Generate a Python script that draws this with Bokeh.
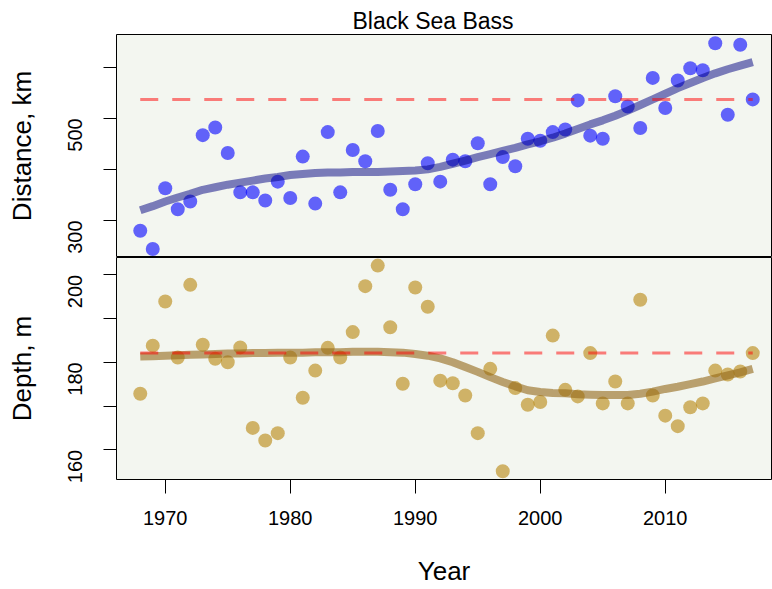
import math
from bokeh.plotting import figure
from bokeh.layouts import column
from bokeh.models import FixedTicker, Range1d
from bokeh.embed import file_html
from bokeh.resources import INLINE

title_text = "Black Sea Bass"
years = list(range(1968, 2018))

distance_km = [280, 244, 363, 322, 337, 467, 482, 432, 355, 355,
               339, 376, 344, 425, 333, 473, 355, 438, 416, 475,
               360, 322, 371, 412, 376, 419, 416, 451, 371, 424,
               406, 460, 456, 473, 478, 535, 466, 460, 543, 523,
               481, 579, 520, 574, 598, 594, 647, 507, 644, 537]
distance_smooth = [320, 328, 337, 345, 352, 360, 365, 370, 374, 378,
                   382, 385, 389, 391, 393, 394, 394, 395, 395, 395,
                   396, 397, 398, 400, 405, 411, 417, 424, 430, 436,
                   442, 449, 455, 462, 470, 479, 488, 496, 505, 515,
                   526, 537, 548, 559, 569, 579, 588, 596, 603, 610]
distance_ref = 537

depth_m = [172.8, 183.8, 193.9, 181.1, 197.7, 184.0, 180.8, 180.0, 183.4, 165.0,
           162.1, 163.8, 181.1, 171.9, 178.1, 183.3, 181.1, 186.9, 197.4, 202.1,
           188.0, 175.1, 197.1, 192.7, 175.8, 175.2, 172.4, 163.8, 178.5, 155.1,
           174.1, 170.3, 170.9, 186.1, 173.7, 172.2, 182.1, 170.6, 175.6, 170.6,
           194.3, 172.4, 167.8, 165.4, 169.7, 170.6, 178.1, 177.2, 177.9, 182.1]
depth_smooth = [181.3, 181.4, 181.5, 181.6, 181.7, 181.8, 181.9, 182.0, 182.0, 182.1,
                182.1, 182.2, 182.2, 182.2, 182.3, 182.3, 182.3, 182.4, 182.4, 182.4,
                182.3, 182.2, 181.9, 181.5, 180.9, 180.0, 178.9, 177.8, 176.6, 175.5,
                174.5, 173.6, 173.2, 173.0, 172.9, 172.7, 172.6, 172.5, 172.5, 172.5,
                172.8, 173.3, 173.9, 174.4, 175.0, 175.6, 176.3, 177.0, 177.7, 178.5]
depth_ref = 182.1

x_ticks = [1970, 1980, 1990, 2000, 2010]
dist_ticks = [300, 400, 500, 600]
dist_labels = {300: "300", 400: "", 500: "500", 600: ""}
depth_ticks = [160, 170, 180, 190, 200]
depth_labels = {160: "160", 170: "", 180: "180", 190: "", 200: "200"}

FONT = "Liberation Sans"
BG = "#f3f6f0"
x_range = Range1d(1966.1, 2018.5)


def style(p, ylabel, ticks, labels):
    p.outline_line_color = "black"
    p.outline_line_width = 1
    p.background_fill_color = BG
    p.border_fill_color = "white"
    p.xgrid.visible = False
    p.ygrid.visible = False
    ax = p.yaxis[0]
    ax.ticker = FixedTicker(ticks=ticks)
    ax.major_label_overrides = labels
    ax.axis_label = ylabel
    ax.axis_label_text_font = FONT
    ax.axis_label_text_font_size = "26px"
    ax.axis_label_text_font_style = "normal"
    ax.axis_label_text_color = "black"
    ax.axis_label_standoff = 22
    ax.major_label_text_font = FONT
    ax.major_label_text_font_size = "20px"
    ax.major_label_text_color = "black"
    ax.major_label_orientation = math.pi / 2
    ax.major_label_standoff = 28
    ax.major_tick_out = 13
    ax.major_tick_in = 0
    ax.minor_tick_out = 0
    ax.minor_tick_in = 0
    ax.axis_line_color = None
    ax.major_tick_line_color = "black"


top = figure(width=772, height=257, x_range=x_range, y_range=Range1d(227.5, 664),
             output_backend="svg", toolbar_location=None,
             min_border_left=116, min_border_right=1, min_border_top=34, min_border_bottom=0)
top.title.text = title_text
top.title.text_font = FONT
top.title.text_font_size = "23px"
top.title.text_font_style = "normal"
top.title.text_color = "black"
top.title.align = "left"
top.title.offset = 236
top.title.standoff = 2
top.xaxis.visible = False
style(top, "Distance, km", dist_ticks, dist_labels)

top.scatter(years, distance_km, size=14, fill_color="blue", fill_alpha=0.6, line_color=None)
top.line(years, distance_smooth, line_color="navy", line_alpha=0.5, line_width=8)
top.line([years[0], years[-1]], [distance_ref, distance_ref], line_color="red",
         line_alpha=0.5, line_width=3, line_dash="18 14")

bot = figure(width=772, height=332, x_range=x_range, y_range=Range1d(153.2, 203.95),
             output_backend="svg", toolbar_location=None,
             min_border_left=116, min_border_right=1, min_border_top=0, min_border_bottom=110)
style(bot, "Depth, m", depth_ticks, depth_labels)
xa = bot.xaxis[0]
xa.ticker = FixedTicker(ticks=x_ticks)
xa.axis_label = "Year"
xa.axis_label_text_font = FONT
xa.axis_label_text_font_size = "26px"
xa.axis_label_text_font_style = "normal"
xa.axis_label_text_color = "black"
xa.axis_label_standoff = 28
xa.major_label_text_font = FONT
xa.major_label_text_font_size = "20px"
xa.major_label_text_color = "black"
xa.major_label_standoff = 17
xa.major_tick_out = 14
xa.major_tick_in = 0
xa.minor_tick_out = 0
xa.minor_tick_in = 0
xa.axis_line_color = None

bot.scatter(years, depth_m, size=14, fill_color="darkgoldenrod", fill_alpha=0.6, line_color=None)
bot.line(years, depth_smooth, line_color="#926717", line_alpha=0.6, line_width=8)
bot.line([years[0], years[-1]], [depth_ref, depth_ref], line_color="red",
         line_alpha=0.5, line_width=3, line_dash="18 14")

layout = column(top, bot, spacing=0)
open("out.html", "w").write(file_html(layout, INLINE))
